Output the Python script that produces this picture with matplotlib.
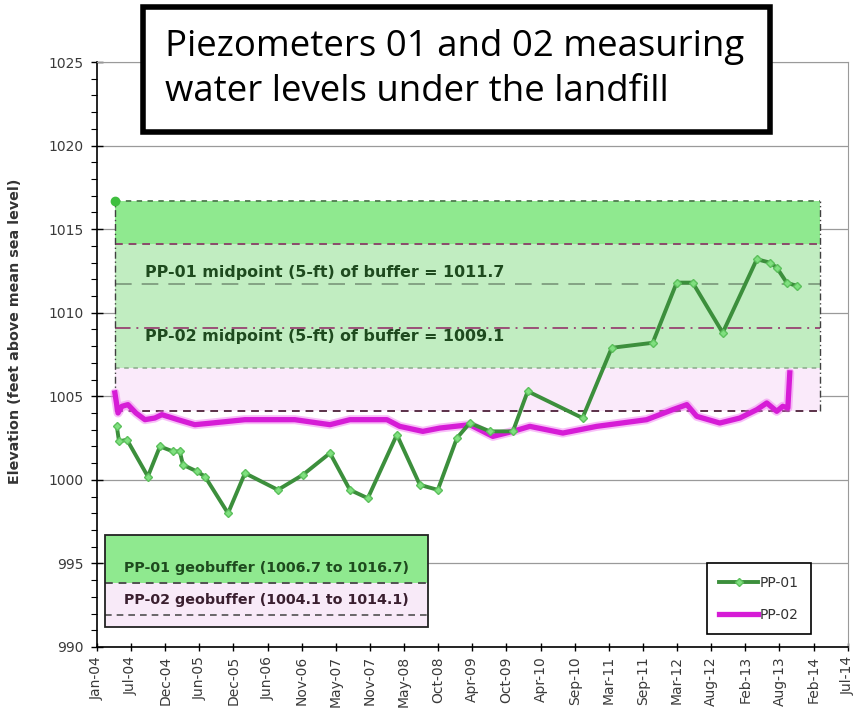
import numpy as np
import matplotlib.pyplot as plt
import matplotlib.dates as mdates
from matplotlib.patches import Rectangle
from matplotlib.lines import Line2D

# ---- data ----
pp01_dates = ['2004-04-25', '2004-05-06', '2004-06-16', '2004-10-01', '2004-12-02',
              '2005-02-07', '2005-03-14', '2005-03-30', '2005-06-10', '2005-07-21',
              '2005-11-16', '2006-02-11', '2006-07-30', '2006-12-05', '2007-04-23',
              '2007-08-03', '2007-11-03', '2008-03-31', '2008-07-27', '2008-10-27',
              '2009-02-02', '2009-04-09', '2009-07-21', '2009-11-16', '2010-01-31',
              '2010-11-08', '2011-04-07', '2011-11-03', '2012-03-05', '2012-05-26',
              '2012-10-27', '2013-04-20', '2013-06-25', '2013-07-31', '2013-09-20',
              '2013-11-11']
pp01_elev = [1003.2, 1002.3, 1002.4, 1000.2, 1002.0,
             1001.7, 1001.7, 1000.9, 1000.5, 1000.2,
             998.0, 1000.4, 999.4, 1000.3, 1001.6,
             999.4, 998.9, 1002.7, 999.7, 999.4,
             1002.5, 1003.4, 1002.9, 1002.9, 1005.3,
             1003.7, 1007.9, 1008.2, 1011.8, 1011.8,
             1008.8, 1013.2, 1013.0, 1012.7, 1011.8,
             1011.6]

pp02_dates = ['2004-04-15', '2004-05-01', '2004-05-21', '2004-06-21', '2004-08-01',
              '2004-09-16', '2004-11-06', '2004-12-12', '2005-03-04', '2005-05-30',
              '2005-08-26', '2006-02-11', '2006-10-25', '2007-04-23', '2007-08-03',
              '2008-02-09', '2008-04-15', '2008-08-11', '2008-11-07', '2009-04-09',
              '2009-08-05', '2009-11-16', '2010-02-11', '2010-07-30', '2011-01-20',
              '2011-10-03', '2012-02-14', '2012-04-26', '2012-06-16', '2012-10-12',
              '2013-01-23', '2013-04-20', '2013-06-10', '2013-07-31', '2013-08-31',
              '2013-09-26', '2013-10-06']
pp02_elev = [1005.2, 1004.0, 1004.4, 1004.5, 1004.0,
             1003.6, 1003.7, 1003.9, 1003.6, 1003.3,
             1003.4, 1003.6, 1003.6, 1003.3, 1003.6,
             1003.6, 1003.2, 1002.9, 1003.1, 1003.3,
             1002.6, 1002.9, 1003.2, 1002.8, 1003.2,
             1003.6, 1004.2, 1004.5, 1003.8, 1003.4,
             1003.7, 1004.2, 1004.6, 1004.1, 1004.4,
             1004.3, 1006.4]

# geobuffer ranges and midpoints
buffer_span = ['2004-04-15', '2014-03-09']
pp01_buffer = (1006.7, 1016.7)
pp02_buffer = (1004.1, 1014.1)
pp01_mid = 1011.7
pp02_mid = 1009.1

tick_labels = ['Jan-04', 'Jul-04', 'Dec-04', 'Jun-05', 'Dec-05', 'Jun-06', 'Nov-06',
               'May-07', 'Nov-07', 'May-08', 'Oct-08', 'Apr-09', 'Oct-09', 'Apr-10',
               'Sep-10', 'Mar-11', 'Sep-11', 'Mar-12', 'Aug-12', 'Feb-13', 'Aug-13',
               'Feb-14', 'Jul-14']

d01 = mdates.datestr2num(pp01_dates)
d02 = mdates.datestr2num(pp02_dates)
bx = mdates.datestr2num(buffer_span)

fig = plt.figure(figsize=(8.58, 7.16), dpi=100)
ax = fig.add_axes([0.113, 0.0964, 0.875, 0.817])

x_start = mdates.datestr2num('2004-01-14')
ticks = x_start + 175 * np.arange(len(tick_labels))
ax.set_xlim(ticks[0], ticks[-1])
ax.set_ylim(990, 1025)

# buffer bands: pink underneath, green on top, pale wash over the overlap
ax.fill_between(bx, pp02_buffer[0], pp02_buffer[1], color='#f6e2f6', lw=0, zorder=0.9)
ax.fill_between(bx, pp01_buffer[0], pp01_buffer[1], color='#8fe98f', lw=0, zorder=1)
ax.fill_between(bx, pp02_buffer[0], pp02_buffer[1], color='#fff4ff', alpha=0.45,
                lw=0, zorder=1.1)
ax.hlines(pp01_buffer[1], bx[0], bx[1], colors='#4f7a4f', linestyles=(0, (3, 3)), lw=1.3, zorder=2)
ax.hlines(pp01_buffer[0], bx[0], bx[1], colors='#8aa88a', linestyles=(0, (3, 3)), lw=1.1, zorder=2)
ax.hlines(pp02_buffer[1], bx[0], bx[1], colors='#8a4a6a', linestyles=(0, (4, 3)), lw=1.4, zorder=2)
ax.hlines(pp02_buffer[0], bx[0], bx[1], colors='#5a3048', linestyles=(0, (4, 3)), lw=1.4, zorder=2)
ax.hlines(pp01_mid, bx[0], bx[1], colors='#7a967a', linestyles=(0, (10, 6)), lw=1.2, zorder=2)
ax.hlines(pp02_mid, bx[0], bx[1], colors='#9a4f78', linestyles=(0, (8, 3, 1, 3)), lw=1.4, zorder=2)
ax.vlines(bx, pp02_buffer[0], pp01_buffer[1], colors='#404040', linestyles=(0, (5, 2, 1, 2)),
          lw=1.0, zorder=2)
ax.plot(bx[0], pp01_buffer[1], 'o', color='#3fbf3f', ms=6, zorder=3)

ax.text(0.064, 1012.4, f'PP-01 midpoint (5-ft) of buffer = {pp01_mid}',
        transform=ax.get_yaxis_transform(), fontsize=11.4, fontweight='bold',
        color='#1e4a1e', va='center', ha='left', zorder=4)
ax.text(0.064, 1008.6, f'PP-02 midpoint (5-ft) of buffer = {pp02_mid}',
        transform=ax.get_yaxis_transform(), fontsize=11.4, fontweight='bold',
        color='#1e4a1e', va='center', ha='left', zorder=4)

# series
ax.plot(d02, pp02_elev, color='#f070f0', lw=6.5, alpha=0.45, solid_capstyle='round', zorder=5)
ax.plot(d02, pp02_elev, color='#d61cd6', lw=3.8, solid_joinstyle='round', zorder=5.1)
ax.plot(d01, pp01_elev, color='#3c8f3c', lw=2.8, marker='D', ms=4.5,
        mfc='#7fe07f', mec='#5cc05c', zorder=6)

# geobuffer key box (lower left)
gbox = dict(transform=ax.transAxes, zorder=7)
ax.add_patch(Rectangle((0.0107, 0.1094), 0.43, 0.0821, facecolor='#8fe98f', edgecolor='none', **gbox))
ax.add_patch(Rectangle((0.0107, 0.0342), 0.43, 0.0752, facecolor='#f8eaf8', edgecolor='none', **gbox))
ax.add_line(Line2D([0.0107, 0.4407], [0.1094, 0.1094], color='#505050', ls=(0, (4, 3)), lw=1.4, **gbox))
ax.add_line(Line2D([0.0107, 0.4407], [0.0547, 0.0547], color='#505050', ls=(0, (4, 3)), lw=1.2, **gbox))
ax.add_patch(Rectangle((0.0107, 0.0342), 0.43, 0.1573, facecolor='none', edgecolor='#222222',
                       lw=1.3, **gbox))
ax.text(0.2257, 0.135, 'PP-01 geobuffer (1006.7 to 1016.7)', transform=ax.transAxes,
        fontsize=10.3, fontweight='bold', color='#1e4a1e', ha='center', va='center', zorder=8)
ax.text(0.2257, 0.080, 'PP-02 geobuffer (1004.1 to 1014.1)', transform=ax.transAxes,
        fontsize=10.3, fontweight='bold', color='#3a1f2f', ha='center', va='center', zorder=8)

# legend
handles = [Line2D([], [], color='#3c8f3c', lw=2.8, marker='D', ms=4.5, mfc='#7fe07f', mec='#5cc05c'),
           Line2D([], [], color='#d61cd6', lw=3.8)]
leg = ax.legend(handles, ['PP-01', 'PP-02'], loc='lower right', bbox_to_anchor=(0.951, 0.022),
                frameon=True, fancybox=False, edgecolor='black', framealpha=1,
                fontsize=10, labelspacing=1.3, handlelength=2.8, handletextpad=0.1,
                borderpad=0.9, borderaxespad=0)
leg.get_frame().set_linewidth(1.2)
leg.set_zorder(9)
for t in leg.get_texts():
    t.set_color('#333333')

# axes styling
ax.set_xticks(ticks)
ax.set_xticklabels(tick_labels, rotation=90)
ax.set_yticks(np.arange(990, 1026, 5))
ax.set_yticks(np.arange(990, 1026, 1), minor=True)
ax.tick_params(axis='both', labelsize=10, labelcolor='#3a3a3a', direction='inout')
ax.tick_params(axis='y', which='major', length=9, width=1, pad=5)
ax.tick_params(axis='y', which='minor', length=4, width=0.8)
ax.tick_params(axis='x', which='major', length=6, width=1)
ax.grid(axis='y', which='major', color='#9a9a9a', lw=0.9)
ax.set_axisbelow(True)
for side in ['top', 'right']:
    ax.spines[side].set_color('#9a9a9a')
ax.spines['left'].set_linewidth(1.2)
ax.spines['bottom'].set_linewidth(1.2)

ax.set_ylabel('Elevation (feet above mean sea level)', fontsize=10.3, fontweight='bold',
              color='#333333')
ax.yaxis.set_label_coords(-0.1, 0.54)

# title box
fig.patches.append(Rectangle((0.1667, 0.816), 0.7307, 0.174, transform=fig.transFigure,
                             facecolor='white', edgecolor='black', lw=4, zorder=10))
fig.text(0.192, 0.903, 'Piezometers 01 and 02 measuring\nwater levels under the landfill',
         fontsize=26.4, family='Open Sans', ha='left', va='center', linespacing=1.3, zorder=11)

fig.savefig('out.png', dpi=100)
